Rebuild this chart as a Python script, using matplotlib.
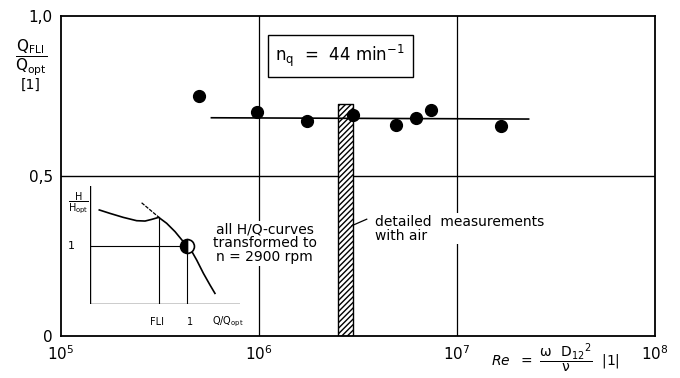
import numpy as np
import matplotlib.pyplot as plt

plt.rcParams['mathtext.default'] = 'regular'

# measured points (Re, Q_FLI/Q_opt)
re_pts = [5.0e5, 9.8e5, 1.74e6, 3.0e6, 4.9e6, 6.2e6, 7.4e6, 1.66e7]
q_pts = [0.75, 0.70, 0.673, 0.69, 0.66, 0.68, 0.706, 0.656]

# mean line
re_fit = [5.75e5, 2.3e7]
q_fit = [0.682, 0.678]

# air measurement band
re_band = [2.5e6, 3.0e6]
band_top = 0.725

x_ticks = [1e5, 1e6, 1e7, 1e8]
x_labels = ['$10^5$', '$10^6$', '$10^7$', '$10^8$']
y_ticks = [0, 0.5, 1.0]
y_labels = ['0', '0,5', '1,0']

# schematic inset H/Q curve (normalized)
inset_q = [0.062, 0.133, 0.222, 0.311, 0.367, 0.411, 0.458, 0.511, 0.567,
           0.622, 0.667, 0.711, 0.756, 0.8, 0.833]
inset_h = [0.797, 0.768, 0.734, 0.706, 0.703, 0.717, 0.734, 0.684, 0.613,
           0.528, 0.472, 0.373, 0.26, 0.161, 0.09]
q_fli, h_fli = 0.46, 0.734
q_opt, h_opt = 0.648, 0.49

W, H = 680, 378
fig = plt.figure(figsize=(6.8, 3.78), dpi=100)
ax = fig.add_axes([61 / W, 1 - 336 / H, (655 - 61) / W, (336 - 16) / H])
ax.set_xscale('log')
ax.set_xlim(1e5, 1e8)
ax.set_ylim(0, 1.0)

for s in ax.spines.values():
    s.set_linewidth(1.3)
ax.axhline(0.5, color='k', lw=1.0, zorder=1)
ax.axvline(1e6, color='k', lw=0.9, zorder=1)
ax.axvline(1e7, color='k', lw=0.9, zorder=1)

ax.fill_between(re_band, 0, band_top, facecolor='white', edgecolor='k',
                hatch='//////', lw=1.0, zorder=2)
ax.plot(re_fit, q_fit, color='k', lw=1.2, zorder=3)
ax.plot(re_pts, q_pts, 'o', color='k', ms=8.5, zorder=4)

ax.set_xticks(x_ticks)
ax.set_xticklabels(x_labels, fontsize=11)
ax.set_yticks(y_ticks)
ax.set_yticklabels(y_labels, fontsize=11)
ax.minorticks_off()
ax.tick_params(length=0, pad=6)

# n_q box
ax.text(0.47, 0.875, r'$n_q$  =  44 min$^{-1}$', transform=ax.transAxes,
        fontsize=12, ha='center', va='center',
        bbox=dict(boxstyle='square,pad=0.45', fc='white', ec='k', lw=1.0))

ax.text(1e6 * 1.07, 0.29, 'all H/Q-curves\ntransformed to\nn = 2900 rpm',
        fontsize=10, ha='center', va='center', linespacing=1.0,
        bbox=dict(fc='white', ec='none', pad=1), zorder=5)
ax.text(0.528, 0.335, 'detailed  measurements\nwith air', transform=ax.transAxes,
        fontsize=10, ha='left', va='center', linespacing=1.0,
        bbox=dict(fc='white', ec='none', pad=1), zorder=5)
ax.plot([2.95e6, 3.5e6], [0.345, 0.365], color='k', lw=0.9, zorder=5)

# y axis title
fig.text(31 / W, 1 - 58 / H, r'$\dfrac{Q_{FLI}}{Q_{opt}}$', fontsize=11,
         ha='center', va='center')
fig.text(31 / W, 1 - 85 / H, '[1]', fontsize=10, ha='center', va='center')

# Re label
fig.text(555 / W, 1 - 358 / H, r'$\mathit{Re}\ \ =\ \dfrac{\omega\ \ D_{12}{}^2}{\nu}\ \ |1|$',
         fontsize=10, ha='center', va='center')

# inset sketch
ins = fig.add_axes([90 / W, 1 - 304 / H, 150 / W, 118 / H])
ins.set_xlim(0, 1)
ins.set_ylim(0, 1)
ins.axis('off')
ins.plot([0, 0], [0, 1], color='k', lw=1.0)
ins.plot([0, 1], [0, 0], color='k', lw=1.0)
ins.plot(inset_q, inset_h, color='k', lw=1.2)
ins.plot([0.344, q_fli], [0.858, h_fli], color='k', lw=0.9, ls=(0, (3, 1)))
ins.plot([q_fli, q_fli], [0, h_fli], color='k', lw=0.8)
ins.plot([q_opt, q_opt], [0, h_opt], color='k', lw=0.8)
ins.plot([0, q_opt], [h_opt, h_opt], color='k', lw=0.8)
ins.plot([q_opt], [h_opt], 'o', ms=10, mec='k', mfc='k', mfcalt='white',
         fillstyle='left', mew=1.2)
ins.text(-0.1, 0.49, '1', fontsize=8, ha='right', va='center', transform=ins.transAxes)
fig.text(78 / W, 1 - 203 / H, r'$\dfrac{H}{H_{opt}}$', fontsize=7, ha='center', va='center')
fig.text(157 / W, 1 - 322 / H, 'FLI', fontsize=7, ha='center', va='center')
fig.text(190 / W, 1 - 322 / H, '1', fontsize=7, ha='center', va='center')
fig.text(228 / W, 1 - 322 / H, 'Q/Q$_{opt}$', fontsize=7, ha='center', va='center')

fig.savefig('out.png', dpi=100)
